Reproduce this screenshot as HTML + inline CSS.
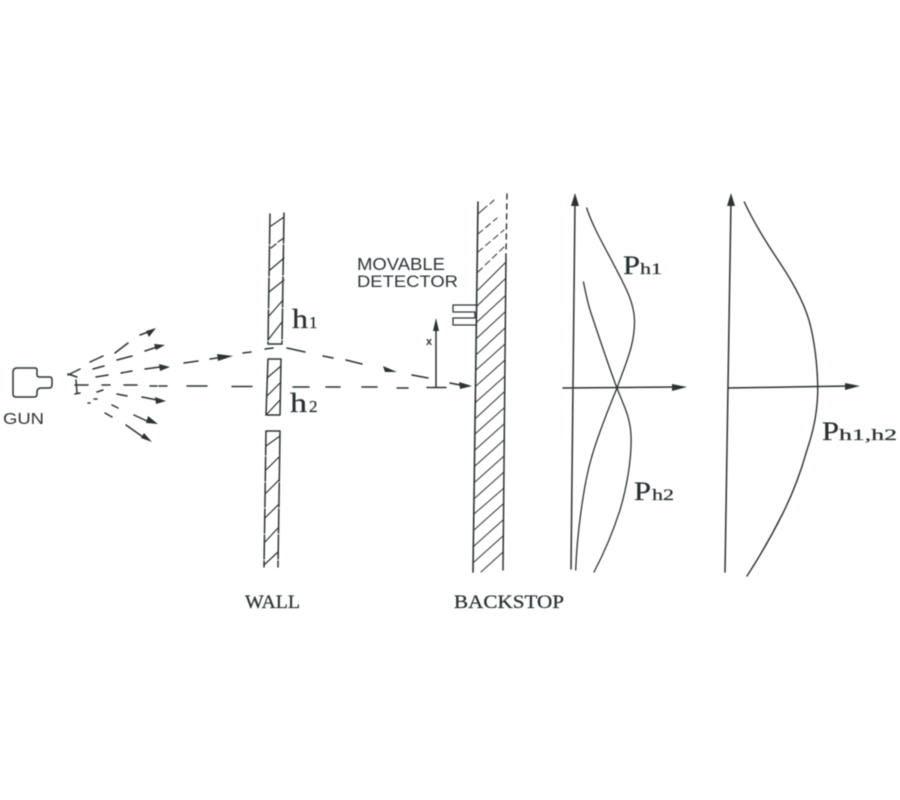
<!DOCTYPE html>
<html><head><meta charset="utf-8"><style>
html,body{margin:0;padding:0;background:#fff;width:900px;height:800px;overflow:hidden}
svg{display:block;filter:blur(0.45px)}
.s{font-family:"Liberation Sans",sans-serif;fill:#2c3538}
.r{font-family:"Liberation Serif",serif;fill:#263032;stroke:#263032;stroke-width:.25}
</style></head><body>
<svg width="900" height="800" viewBox="0 0 900 800" xmlns="http://www.w3.org/2000/svg">
<g fill="none" stroke="#2a3335" stroke-width="1.5" stroke-linecap="round" stroke-linejoin="round">
<!-- gun -->
<path d="M17 368H35Q37 368 37 370V375Q37 377 40 377H50Q52 377 52 380V385Q52 388 49 388H41Q37 388 37 392V394Q37 397 34 397H16Q13 397 13 394V372Q13 368 17 368Z"/>
<!-- wall -->
<path d="M270 214L268 343M284 213L282 343M268 344H282" stroke-dasharray="30 2"/>
<path d="M268 359L266 415M281 359L280 415M268 359H281M266 415H280"/>
<path d="M266 431L264 567M280 431L278 567M266 431H280" stroke-dasharray="24 2"/>
<g stroke-width="1.2">
<path d="M271 226L284 217M271 248L276 244M278 242L284 238M270 270L284 258M269 292L284 280M269 316L283 300M268 340L282 322"/>
<path d="M267 378L281 366M267 396L281 382M267 414L280 400"/>
<path d="M266 446L280 436M266 470L280 456M265 494L279 480M265 518L279 504M265 542L278 528M264 565L278 552"/>
</g>
<!-- backstop -->
<path d="M478 202L473 572" stroke-width="1.6"/>
<path d="M507 194L506 254" stroke-width="1.4" stroke-dasharray="5 5"/>
<path d="M506 254L503 570" stroke-width="1.5"/>
<g stroke-width="1">
<path d="M478 214L487 206M490 204L494 200" />
<path d="M478 234L497 218M478 252L504 230M478 272L505 246" stroke-dasharray="6 4"/>
<path d="M478 290L506 262M477 306L506 278M477 322L505 296M477 338L505 312M477 354L505 328M476 370L505 344M476 386L505 360M476 402L505 376M476 418L504 392M475 434L504 408M475 450L504 424M475 466L504 440M475 482L504 456M475 498L504 472M474 514L504 488M474 530L503 504M474 546L503 520M474 562L503 536M481 572L503 552"/>
</g>
<!-- detector -->
<path d="M477 305H453V312H475V318H453V325H476" stroke-width="1.3"/>
<!-- x arrow -->
<path d="M436 387V325"/>
<!-- beams -->
<g stroke-width="1.5">
<path d="M68 375L80 369M68 374L77 377M76 380L77 393M75 385H88M75 394L80 393"/>
<path d="M90 362L103 356M93 369L104 366M96 377L108 375M102 385H110M97 392L103 390M88 403H90M94 399H97"/>
<path d="M115 353L128 343M117 360L132 356M121 373L132 371M124 385H137M117 394L127 396M112 405L118 408M105 413L112 417"/>
<path d="M140 335L148 332M145 351L157 347M145 369L160 367M150 386H157M159 386H167M142 397L157 400M134 415L147 421M126 425L143 437"/>
<path d="M184 363L198 361M210 359L217 358M243 353L251 352M265 349L273 348M187 386H207M232 386.500H252"/>
<path d="M287 348L305 352M323 356L333 358M346 360L362 364M412 375L428 378"/>
<path d="M293 387H309M326 387H340M362 387H377M397 388H408M427 387.500H446M450 383L460 385"/>
</g>
<!-- graphs -->
<path d="M571 569L575 200M563 388L675 387M725 572L731 200M728 388L848 386" stroke-width="1.5"/>
<path d="M586.7 208C592 225 604 246 613 263C622 281 634 300 634.5 320C635 345 625 365 617 388C610 405 596 440 590 463C583 490 577 535 575.7 570" stroke-width="1.3"/>
<path d="M583.5 282C586 295 588 305 592 316C600 340 610 370 617 388C622 402 630 415 631 435C632 460 626 490 620 510C612 535 603 555 594 572" stroke-width="1.3"/>
<path d="M744.3 202C755 225 768 245 780 263C792 281 806 305 811 328C816 350 818 375 817.7 393C817 415 813 432 807 450C800 475 792 495 783 513C772 535 760 556 747 576" stroke-width="1.4"/>
</g>
<g fill="#2a3335">
<path d="M156 328L146 331L149 337ZM165 345L154 344L156 350ZM170 367L159 364L160 371ZM166 401L155 397L156 404ZM158 424L148 416L146 423ZM152 442L144 433L141 438Z"/>
<path d="M233 356L217 354L218 361ZM397 372L383 366L385 372Z"/>
<path d="M472 386L459 382L460 389ZM436 318L433 331H439Z"/>
<path d="M575 193L571 206H579ZM687 387L672 384V391ZM731 193L727 206H735ZM860 386L845 383V390Z"/>
</g>
<text class="s" x="3" y="424" font-size="16" textLength="41" lengthAdjust="spacingAndGlyphs">GUN</text>
<text class="s" x="357" y="270" font-size="17.500" textLength="88" lengthAdjust="spacingAndGlyphs">MOVABLE</text>
<text class="s" x="357" y="287" font-size="17" textLength="101" lengthAdjust="spacingAndGlyphs">DETECTOR</text>
<text class="s" x="426" y="345" font-size="11" font-weight="bold">x</text>
<text class="r" x="292" y="328" font-size="27" textLength="16" lengthAdjust="spacingAndGlyphs">h</text><text class="r" x="309" y="328" font-size="17">1</text>
<text class="r" x="290" y="412" font-size="27" textLength="17" lengthAdjust="spacingAndGlyphs">h</text><text class="r" x="309" y="412" font-size="17">2</text>
<text class="r" x="245" y="608" font-size="19" textLength="55" lengthAdjust="spacingAndGlyphs">WALL</text>
<text class="r" x="454" y="608" font-size="19" textLength="110" lengthAdjust="spacingAndGlyphs">BACKSTOP</text>
<text class="r" x="623" y="274" font-size="26" textLength="17" lengthAdjust="spacingAndGlyphs">P</text><text class="r" x="640" y="274" font-size="16" textLength="22" lengthAdjust="spacingAndGlyphs">h1</text>
<text class="r" x="634" y="500" font-size="26" textLength="17" lengthAdjust="spacingAndGlyphs">P</text><text class="r" x="652" y="500" font-size="16" textLength="22" lengthAdjust="spacingAndGlyphs">h2</text>
<text class="r" x="822" y="440" font-size="26" textLength="17" lengthAdjust="spacingAndGlyphs">P</text><text class="r" x="839" y="440" font-size="16" textLength="58" lengthAdjust="spacingAndGlyphs">h1,h2</text>
</svg>
</body></html>
